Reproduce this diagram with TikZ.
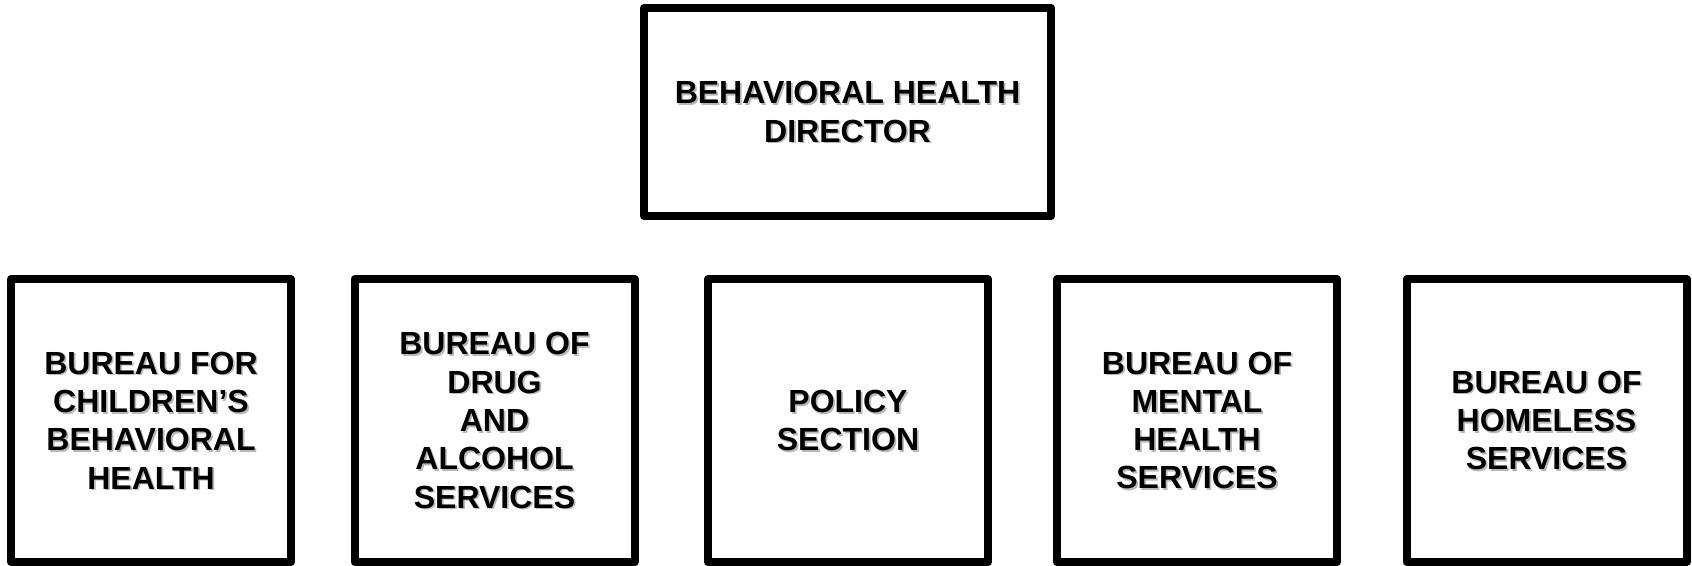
\documentclass[tikz,border=0pt]{standalone}
\usepackage{fontspec}
\setmainfont{Liberation Sans}
\usetikzlibrary{positioning}

% box with a soft grey copy of its text behind it
\newcommand{\orgnode}[4]{%
  \node[#3,draw=none,fill=none,text=black!28] at ([shift={(1.3pt,-1.3pt)}]#2) {#4};
  \node[#3] (#1) at (#2) {#4};
}

\begin{document}
\begin{tikzpicture}[
x=0.75pt,y=0.75pt,
unit/.style={
  draw,
  line width=6pt,
  line join=round,
  align=center,
  inner sep=0pt,
  font=\fontsize{24}{28.7}\selectfont\bfseries,
  minimum width=210pt,
  minimum height=212.25pt
},
head/.style={
  unit,
  minimum width=305.25pt,
  minimum height=156pt
}
]
\useasboundingbox (0,0) rectangle (1692,566);

\orgnode{director}{847.5,454}{head}{BEHAVIORAL HEALTH\\DIRECTOR}

\orgnode{children}{151,145.5}{unit}{BUREAU FOR\\CHILDREN’S\\BEHAVIORAL\\HEALTH}
\orgnode{drug}{494.5,145.5}{unit}{BUREAU OF\\DRUG\\AND\\ALCOHOL\\SERVICES}
\orgnode{policy}{848,145.5}{unit}{POLICY\\SECTION}
\orgnode{mental}{1197,145.5}{unit}{BUREAU OF\\MENTAL\\HEALTH\\SERVICES}
\orgnode{homeless}{1546.5,145.5}{unit}{BUREAU OF\\HOMELESS\\SERVICES}
\end{tikzpicture}
\end{document}
